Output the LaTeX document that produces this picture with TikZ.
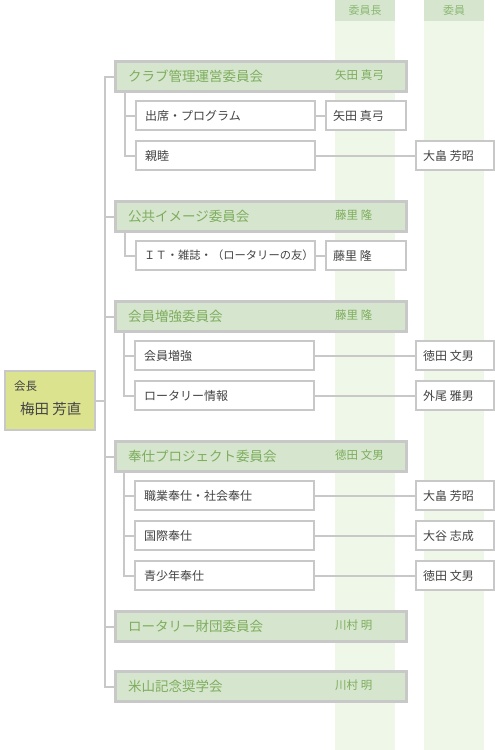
\documentclass[tikz,border=0pt]{standalone}
\usepackage{fontspec}
\setmainfont{Noto Sans CJK JP}
\definecolor{lineC}{HTML}{C8C8C8}
\definecolor{commFill}{HTML}{D6E6CE}
\definecolor{colFill}{HTML}{EEF7E8}
\definecolor{commText}{HTML}{7DAD5C}
\definecolor{headText}{HTML}{8CB874}
\definecolor{presFill}{HTML}{DCE38F}
\definecolor{bodyText}{HTML}{444444}
\begin{document}
\begin{tikzpicture}[x=1pt,y=-1pt,
  box/.style={draw=lineC, line width=2pt, anchor=north west, inner sep=0pt, minimum height=29pt},
  comm/.style={box, fill=commFill, minimum width=290pt},
  subbox/.style={box, fill=white, minimum width=179pt},
  chairbox/.style={box, fill=white, minimum width=80pt},
  membox/.style={box, fill=white, minimum width=78pt},
  conn/.style={draw=lineC, line width=2pt},
  ctext/.style={anchor=west, inner sep=0pt, text=commText, font=\fontsize{13.5}{14}\selectfont},
  cname/.style={anchor=west, inner sep=0pt, text=commText, font=\fontsize{11.5}{12}\selectfont},
  stext/.style={anchor=west, inner sep=0pt, text=bodyText, font=\fontsize{12}{13}\selectfont},
  htext/.style={inner sep=0pt, text=headText, font=\fontsize{11}{12}\selectfont}
]
\useasboundingbox (0,0) rectangle (495,750);
% columns
\fill[colFill] (335,0) rectangle (395,750);
\fill[colFill] (424,0) rectangle (484,750);
\fill[commFill] (335,0) rectangle (395,21);
\fill[commFill] (424,0) rectangle (484,21);
\node[htext] (h1) at (365,10) {委員長};
\node[htext] (h2) at (454,10) {委員};

% president
\node[box, fill=presFill, minimum width=90pt, minimum height=59pt] (pres) at (4,370) {};
\node[anchor=west, inner sep=0pt, text=bodyText, font=\fontsize{11.5}{12}\selectfont] (prest) at (14,386) {会長};
\node[anchor=west, inner sep=0pt, text=bodyText, font=\fontsize{14.5}{15}\selectfont] (presn) at (20,409) {梅田 芳直};

% committees
\node[comm] (c1) at (115,61) {};
\node[comm] (c2) at (115,201) {};
\node[comm] (c3) at (115,301) {};
\node[comm] (c4) at (115,441) {};
\node[comm] (c5) at (115,611) {};
\node[comm] (c6) at (115,671) {};

% sub boxes
\node[subbox] (s11) at (135,100) {};
\node[subbox] (s12) at (135,140) {};
\node[subbox] (s21) at (135,240) {};
\node[subbox] (s31) at (134,340) {};
\node[subbox] (s32) at (134,380) {};
\node[subbox] (s41) at (134,480) {};
\node[subbox] (s42) at (134,520) {};
\node[subbox] (s43) at (134,560) {};

% chair boxes
\node[chairbox] (p11) at (325,100) {};
\node[chairbox] (p21) at (325,240) {};
% member boxes
\node[membox] (m12) at (415,140) {};
\node[membox] (m31) at (415,340) {};
\node[membox] (m32) at (415,380) {};
\node[membox] (m41) at (415,480) {};
\node[membox] (m42) at (415,520) {};
\node[membox] (m43) at (415,560) {};

% connectors
\coordinate (trunk) at (105,0);
\draw[conn] (c1.west) -- (c1.west -| trunk) -- (c6.west -| trunk) -- (c6.west);
\foreach \c in {c2,c3,c4,c5} \draw[conn] (\c.west -| trunk) -- (\c.west);
\draw[conn] (pres.east) -- (pres.east -| trunk);

\coordinate (k1) at ([xshift=10pt]c1.south west);
\draw[conn] (k1) |- (s12.west);
\draw[conn] (k1 |- s11.west) -- (s11.west);
\coordinate (k2) at ([xshift=10pt]c2.south west);
\draw[conn] (k2) |- (s21.west);
\coordinate (k3) at ([xshift=9pt]c3.south west);
\draw[conn] (k3) |- (s32.west);
\draw[conn] (k3 |- s31.west) -- (s31.west);
\coordinate (k4) at ([xshift=9pt]c4.south west);
\draw[conn] (k4) |- (s43.west);
\draw[conn] (k4 |- s41.west) -- (s41.west);
\draw[conn] (k4 |- s42.west) -- (s42.west);

\draw[conn] (s11.east) -- (p11.west);
\draw[conn] (s21.east) -- (p21.west);
\draw[conn] (s12.east) -- (m12.west);
\draw[conn] (s31.east) -- (m31.west);
\draw[conn] (s32.east) -- (m32.west);
\draw[conn] (s41.east) -- (m41.west);
\draw[conn] (s42.east) -- (m42.west);
\draw[conn] (s43.east) -- (m43.west);

% redraw boxes over connectors
\foreach \n in {c1,c2,c3,c4,c5,c6} \draw[draw=lineC, line width=2pt] (\n.north west) rectangle (\n.south east);

% committee texts
\node[ctext] (c1t) at ([xshift=13pt]c1.west) {クラブ管理運営委員会};
\node[cname] (c1n) at (335,75) {矢田 真弓};
\node[ctext] (c2t) at ([xshift=13pt]c2.west) {公共イメージ委員会};
\node[cname] (c2n) at (335,215) {藤里 隆};
\node[ctext] (c3t) at ([xshift=13pt]c3.west) {会員増強委員会};
\node[cname] (c3n) at (335,315) {藤里 隆};
\node[ctext] (c4t) at ([xshift=13pt]c4.west) {奉仕プロジェクト委員会};
\node[cname] (c4n) at (335,455) {徳田 文男};
\node[ctext] (c5t) at ([xshift=13pt]c5.west) {ロータリー財団委員会};
\node[cname] (c5n) at (335,625) {川村 明};
\node[ctext] (c6t) at ([xshift=13pt]c6.west) {米山記念奨学会};
\node[cname] (c6n) at (335,685) {川村 明};

% sub texts
\node[stext] (s11t) at ([xshift=10pt]s11.west) {出席・プログラム};
\node[stext] (s12t) at ([xshift=10pt]s12.west) {親睦};
\node[stext, font=\fontsize{11.3}{13}\selectfont] (s21t) at ([xshift=9pt]s21.west) {ＩＴ・雑誌・（ロータリーの友）};
\node[stext] (s31t) at ([xshift=10pt]s31.west) {会員増強};
\node[stext] (s32t) at ([xshift=10pt]s32.west) {ロータリー情報};
\node[stext] (s41t) at ([xshift=10pt]s41.west) {職業奉仕・社会奉仕};
\node[stext] (s42t) at ([xshift=10pt]s42.west) {国際奉仕};
\node[stext] (s43t) at ([xshift=10pt]s43.west) {青少年奉仕};

\node[stext] (p11t) at ([xshift=8pt]p11.west) {矢田 真弓};
\node[stext] (p21t) at ([xshift=8pt]p21.west) {藤里 隆};
\node[stext] (m12t) at ([xshift=8pt]m12.west) {大畠 芳昭};
\node[stext] (m31t) at ([xshift=8pt]m31.west) {徳田 文男};
\node[stext] (m32t) at ([xshift=8pt]m32.west) {外尾 雅男};
\node[stext] (m41t) at ([xshift=8pt]m41.west) {大畠 芳昭};
\node[stext] (m42t) at ([xshift=8pt]m42.west) {大谷 志成};
\node[stext] (m43t) at ([xshift=8pt]m43.west) {徳田 文男};
\end{tikzpicture}
\end{document}
